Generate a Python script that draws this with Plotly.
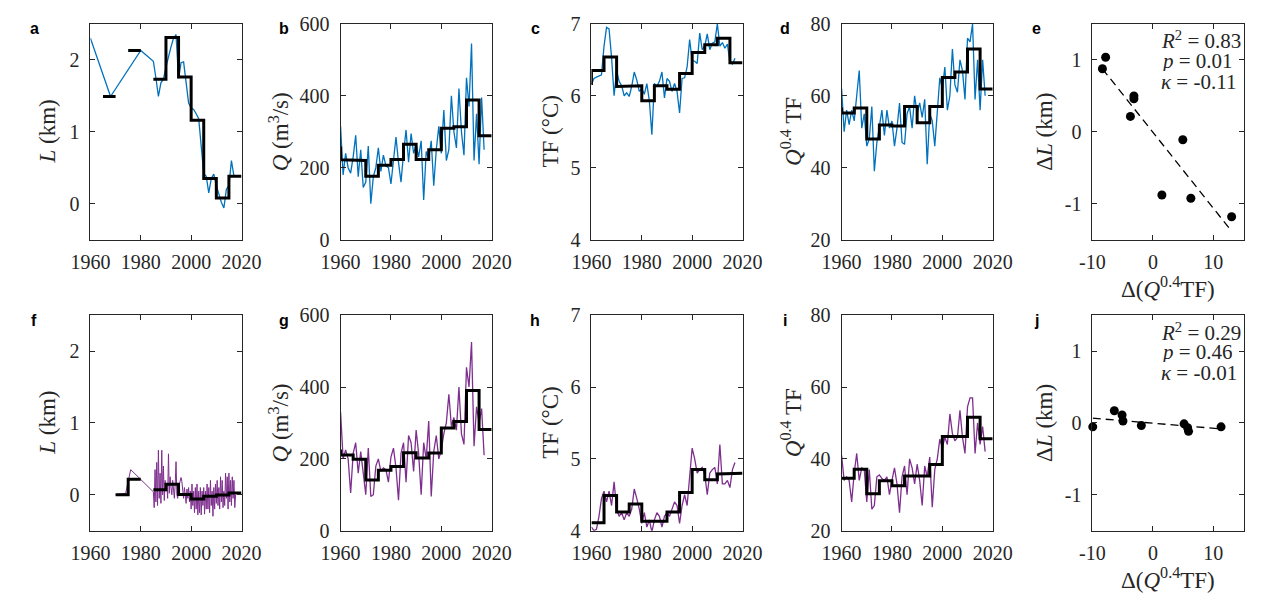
import numpy as np
import plotly.graph_objects as go

W, H = 1271, 604
BLUE = '#0072BD'
PURPLE = '#7E2F8E'
INK = '#262626'

# ---------------- data ----------------
# panel a: terminus position L (km), glacier 1
a_years = [1960, 1968, 1980, 1985, 1986, 1987, 1988, 1989, 1990, 1991, 1992, 1993, 1994,
           1995, 1996, 1997, 1998, 1999, 2000, 2001, 2002, 2003, 2004, 2005, 2006, 2007,
           2008, 2009, 2010, 2011, 2012, 2013, 2014, 2015, 2016, 2017]
a_L = [2.30, 1.49, 2.13, 1.98, 1.75, 1.49, 1.68, 1.73, 1.90, 2.05, 2.18, 2.30, 2.35,
       1.74, 1.96, 1.97, 1.70, 1.40, 1.33, 1.31, 1.25, 1.18, 0.80, 0.42, 0.38, 0.15,
       0.35, 0.41, 0.25, 0.12, 0.02, -0.06, 0.20, 0.25, 0.60, 0.38]
a_bin_start = [1965, 1975, 1985, 1990, 1995, 2000, 2005, 2010, 2015]
a_bin_mean = [1.49, 2.13, 1.73, 2.31, 1.76, 1.16, 0.35, 0.08, 0.38]

years = list(range(1960, 2018))

b_Q = [315, 180, 240, 200, 185, 230, 290, 175, 250, 145,
       160, 260, 100, 175, 200, 255, 190, 235, 205, 200,
       155, 230, 285, 215, 160, 240, 305, 215, 295, 240,
       265, 230, 275, 110, 245, 225, 275, 150, 250, 315,
       240, 360, 220, 250, 400, 300, 255, 420, 300, 235,
       450, 370, 545, 220, 350, 210, 395, 250]
b_bin_start = [1955, 1960, 1965, 1970, 1975, 1980, 1985, 1990, 1995, 2000, 2005, 2010, 2015]
b_bin_mean = [255, 222, 220, 176, 207, 223, 265, 223, 250, 310, 314, 388, 289]

c_TF = [6.16, 6.24, 6.26, 6.27, 6.29, 6.69, 6.95, 6.93, 6.53, 6.00,
        6.35, 6.20, 6.14, 6.00, 6.04, 5.99, 6.13, 6.33, 6.22, 6.06,
        6.10, 6.02, 6.17, 5.93, 5.46, 6.17, 6.13, 6.20, 6.33, 5.97,
        6.24, 6.20, 6.06, 6.17, 6.06, 5.76, 6.24, 6.25, 6.40, 6.78,
        6.49, 6.48, 6.45, 6.87, 6.64, 6.69, 6.86, 6.64, 6.73, 6.75,
        7.00, 6.69, 6.74, 6.66, 6.72, 6.46, 6.44, 6.52]
c_bin_start = [1955, 1960, 1965, 1970, 1975, 1980, 1985, 1990, 1995, 2000, 2005, 2010, 2015]
c_bin_mean = [6.17, 6.35, 6.54, 6.13, 6.14, 5.93, 6.14, 6.09, 6.31, 6.60, 6.71, 6.80, 6.46]

d_QTF = [62, 50, 56, 52, 56, 53, 60, 67, 51, 55,
         46, 48, 57, 39, 47, 52, 56, 49, 56, 51,
         53, 46, 51, 58, 47, 46.5, 55, 57, 51, 60,
         55, 58, 54, 59, 41, 55, 53, 46, 55, 65,
         62, 68, 56, 60, 73, 63, 61, 70, 67, 59,
         76, 75, 80, 59, 70, 56, 70, 60]
d_bin_start = [1955, 1960, 1965, 1970, 1975, 1980, 1985, 1990, 1995, 2000, 2005, 2010, 2015]
d_bin_mean = [56.3, 55.2, 56.6, 48.0, 51.9, 51.6, 57.0, 52.5, 57.0, 65.1, 66.6, 73.0, 61.9]

# panel e: scatter
e_dx = [-7.82, -8.35, -3.14, -3.14, -3.72, 4.95, 1.49, 6.28, 13.03]
e_dL = [1.036, 0.876, 0.498, 0.458, 0.213, -0.111, -0.880, -0.924, -1.182]
e_stats = ['<i>R</i><sup>2</sup> = 0.83', '<i>p</i> = 0.01', '<i>κ</i> = -0.11']

# panel f: terminus position L (km), glacier 2
f_sparse_years = [1970, 1974, 1976]
f_sparse_L = [0.00, 0.02, 0.35]
f_dense_start = 1985
f_dense_per_year = 3
f_dense_L = [0.04, -0.18, 0.35, -0.10, 0.45, -0.15, 0.62, -0.05, 0.30,
             -0.12, 0.62, 0.00, 0.40, -0.08, 0.20, 0.05, 0.15, -0.05,
             0.57, 0.02, 0.25, 0.10, 0.00, 0.20, 0.05, -0.05, 0.15,
             0.46, 0.00, -0.05, 0.10, 0.15, 0.22, 0.24, 0.18, 0.05,
             -0.05, 0.10, 0.00, -0.12, 0.08, -0.05, 0.10, -0.10, 0.05,
             -0.20, 0.15, -0.15, 0.05, -0.25, 0.10, -0.20, 0.15, -0.28,
             0.05, -0.25, 0.10, -0.28, 0.05, -0.15, 0.10, -0.27, 0.05,
             -0.20, 0.15, -0.20, 0.10, -0.25, 0.20, -0.15, 0.05, -0.30,
             0.10, -0.20, 0.15, -0.12, 0.20, -0.15, 0.10, -0.20, 0.25,
             -0.10, 0.20, -0.18, 0.05, -0.15, 0.30, -0.05, 0.25, -0.20,
             0.30, -0.10, 0.20, -0.15, 0.25, -0.05, 0.20, -0.18, 0.00]
f_bin_start = [1970, 1975, 1985, 1990, 1995, 2000, 2005, 2010, 2015]
f_bin_mean = [0.00, 0.215, 0.07, 0.145, 0.005, -0.06, -0.02, -0.005, 0.025]

g_Q = [330, 200, 225, 200, 105, 215, 245, 160, 220, 155,
       100, 230, 95, 100, 180, 200, 165, 175, 170, 135,
       205, 230, 175, 85, 215, 245, 135, 265, 245, 165,
       280, 215, 100, 245, 200, 305, 95, 220, 265, 200,
       225, 270, 300, 380, 290, 315, 280, 400, 270, 240,
       455, 400, 525, 235, 345, 300, 340, 210]
g_bin_start = [1955, 1960, 1965, 1970, 1975, 1980, 1985, 1990, 1995, 2000, 2005, 2010, 2015]
g_bin_mean = [222, 211, 199, 141, 168, 179, 217, 202, 216, 286, 304, 390, 282]

h_TF = [4.05, 4.00, 4.02, 4.20, 4.45, 4.55, 4.40, 4.55, 4.35, 4.68,
        4.30, 4.20, 4.25, 4.15, 4.25, 4.20, 4.30, 4.58, 4.45, 4.30,
        4.10, 4.25, 4.05, 4.15, 3.98, 4.15, 4.25, 4.20, 4.05, 4.20,
        4.25, 4.20, 4.30, 4.40, 4.35, 4.10, 4.35, 4.50, 4.35, 4.75,
        5.15, 5.00, 4.80, 4.85, 4.88, 4.78, 4.50, 4.80, 4.85, 4.88,
        4.65, 5.20, 4.65, 4.65, 4.70, 4.60, 4.85, 4.95]
h_bin_start = [1960, 1965, 1970, 1975, 1980, 1985, 1990, 1995, 2000, 2005, 2010, 2015]
h_bin_mean = [4.11, 4.49, 4.26, 4.37, 4.13, 4.13, 4.26, 4.53, 4.85, 4.71, 4.79, 4.80]

i_QTF = [41, 34, 35, 34, 28, 36, 41.5, 34, 37.5, 37,
         28, 37, 26, 27, 35, 35.5, 34.5, 34, 35, 30,
         34, 37.5, 33, 25, 35, 38, 30, 40, 37.5, 33,
         38.5, 34, 27, 38, 35, 40.5, 26.5, 37, 40, 45.5,
         43, 46, 44, 52.5, 47, 45, 46, 53.5, 46, 41.5,
         54.5, 57, 57, 41.5, 50, 44, 49, 42]
i_bin_start = [1960, 1965, 1970, 1975, 1980, 1985, 1990, 1995, 2000, 2005, 2010, 2015]
i_bin_mean = [34.6, 37.1, 30.3, 33.9, 32.5, 35.2, 35.2, 38.4, 46.2, 46.2, 51.6, 45.6]

j_dx = [-9.95, -6.38, -5.10, -4.95, -1.91, 5.16, 5.74, 5.90, 11.28]
j_dL = [-0.054, 0.170, 0.110, 0.027, -0.036, -0.013, -0.067, -0.117, -0.054]
j_stats = ['<i>R</i><sup>2</sup> = 0.29', '<i>p</i> = 0.46', '<i>κ</i> = -0.01']

panel_letters = ['a', 'b', 'c', 'd', 'e', 'f', 'g', 'h', 'i', 'j']
y_titles = ['<i>L</i> (km)', '<i>Q</i> (m<sup>3</sup>/s)', 'TF (°C)',
            '<i>Q</i><sup>0.4</sup> TF', 'Δ<i>L</i> (km)']
x_title_scatter = 'Δ(<i>Q</i><sup>0.4</sup>TF)'

# ---------------- layout geometry (pixels) ----------------
lefts = [72.7, 331.0, 590.0, 848.3, 1107.3]
boxw = 156.0
rows = [(13.3, 237.3), (315.7, 539.3)]
ytitle_off = [-44, -63, -42, -51, -49]

SERIF = 'Liberation Serif'


def px_x(p):
    return p / W


def px_y(p):
    return 1 - p / H


def stairs(starts, means, width=5):
    xs, ys = [], []
    prev_end = None
    for s, m in zip(starts, means):
        if prev_end is not None and s != prev_end:
            xs.append(None)
            ys.append(None)
        xs += [s, s + width]
        ys += [m, m]
        prev_end = s + width
    return xs, ys


fig = go.Figure()


def ax(k):
    return ('x' if k == 0 else f'x{k+1}'), ('y' if k == 0 else f'y{k+1}')


def add_series(k, x, y, color, bstart, bmean, lw=1.3):
    xr, yr = ax(k)
    fig.add_trace(go.Scatter(x=x, y=y, mode='lines', line=dict(color=color, width=lw),
                             xaxis=xr, yaxis=yr, hoverinfo='skip'))
    sx, sy = stairs(bstart, bmean)
    fig.add_trace(go.Scatter(x=sx, y=sy, mode='lines', line=dict(color='black', width=3),
                             xaxis=xr, yaxis=yr, hoverinfo='skip', connectgaps=False))


def add_scatter(k, x, y):
    xr, yr = ax(k)
    coef = np.polyfit(x, y, 1)
    lx = [min(x), max(x)]
    ly = list(np.polyval(coef, lx))
    fig.add_trace(go.Scatter(x=lx, y=ly, mode='lines',
                             line=dict(color='black', width=1.3, dash='8px,5px'),
                             xaxis=xr, yaxis=yr, hoverinfo='skip'))
    fig.add_trace(go.Scatter(x=x, y=y, mode='markers', marker=dict(color='black', size=9),
                             xaxis=xr, yaxis=yr, cliponaxis=False, hoverinfo='skip'))


# top row
add_series(0, a_years, a_L, BLUE, a_bin_start, a_bin_mean)
add_series(1, years, b_Q, BLUE, b_bin_start, b_bin_mean)
add_series(2, years, c_TF, BLUE, c_bin_start, c_bin_mean)
add_series(3, years, d_QTF, BLUE, d_bin_start, d_bin_mean)
add_scatter(4, e_dx, e_dL)
# bottom row
f_dense_t = [f_dense_start + n / f_dense_per_year for n in range(len(f_dense_L))]
add_series(5, f_sparse_years + f_dense_t, f_sparse_L + f_dense_L, PURPLE,
           f_bin_start, f_bin_mean, lw=1.0)
add_series(6, years, g_Q, PURPLE, g_bin_start, g_bin_mean)
add_series(7, years, h_TF, PURPLE, h_bin_start, h_bin_mean)
add_series(8, years, i_QTF, PURPLE, i_bin_start, i_bin_mean)
add_scatter(9, j_dx, j_dL)

common = dict(showline=True, linecolor=INK, linewidth=1, mirror='ticks', ticks='inside',
              ticklen=5, tickwidth=1, tickcolor=INK, showgrid=False, zeroline=False,
              tickfont=dict(family=SERIF, size=20, color=INK), fixedrange=True)

yspecs = [
    dict(range=[-0.5, 2.5], tickvals=[0, 1, 2], ticktext=['0', '1', '2']),
    dict(range=[0, 600], tickvals=[0, 200, 400, 600], ticktext=['0', '200', '400', '600']),
    dict(range=[4, 7], tickvals=[4, 5, 6, 7], ticktext=['4', '5', '6', '7']),
    dict(range=[20, 80], tickvals=[20, 40, 60, 80], ticktext=['20', '40', '60', '80']),
    dict(range=[-1.5, 1.5], tickvals=[-1, 0, 1], ticktext=['-1', '0', '1']),
]
xtime = dict(range=[1960, 2020], tickvals=[1960, 1980, 2000, 2020],
             ticktext=['1960', '1980', '2000', '2020'])
xscat = dict(range=[-10, 15], tickvals=[-10, 0, 10], ticktext=['-10', '0', '10'])

layout = dict(width=W, height=H, margin=dict(l=0, r=0, t=0, b=0),
              paper_bgcolor='white', plot_bgcolor='white', showlegend=False)
annotations = []
for k in range(10):
    r, c = divmod(k, 5)
    top, bot = rows[r]
    xname = 'xaxis' if k == 0 else f'xaxis{k+1}'
    yname = 'yaxis' if k == 0 else f'yaxis{k+1}'
    xr, yr = ax(k)
    xs = xscat if c == 4 else xtime
    layout[xname] = dict(common, **xs, domain=[px_x(lefts[c]), px_x(lefts[c] + boxw)],
                         anchor=yr, ticklabelstandoff=4)
    layout[yname] = dict(common, **yspecs[c], domain=[px_y(bot), px_y(top)],
                         anchor=xr, ticklabelstandoff=6)
    # panel letter
    annotations.append(dict(text=f'<b>{panel_letters[k]}</b>', x=px_x(lefts[c] - 58),
                            y=px_y(top + 5), xref='paper', yref='paper',
                            xanchor='center', yanchor='middle', showarrow=False,
                            font=dict(family='Liberation Sans', size=16, color='black')))
    # y title
    annotations.append(dict(text=y_titles[c], x=px_x(lefts[c] + ytitle_off[c]),
                            y=px_y((top + bot) / 2), xref='paper', yref='paper',
                            xanchor='center', yanchor='middle', textangle=-90, showarrow=False,
                            font=dict(family=SERIF, size=23, color=INK)))
    if c == 4:
        annotations.append(dict(text=x_title_scatter, x=px_x(lefts[c] + boxw / 2),
                                y=px_y(bot + 50), xref='paper', yref='paper',
                                xanchor='center', yanchor='middle', showarrow=False,
                                font=dict(family=SERIF, size=23, color=INK)))
        stats = e_stats if r == 0 else j_stats
        for n, s in enumerate(stats):
            annotations.append(dict(text=s, x=px_x(lefts[c] + 69), y=px_y(top + 17 + 21.5 * n),
                                    xref='paper', yref='paper', xanchor='left', yanchor='middle',
                                    height=20, showarrow=False,
                                    font=dict(family=SERIF, size=21, color=INK)))

layout['annotations'] = annotations
fig.update_layout(**layout)
fig.write_html('out.html')
